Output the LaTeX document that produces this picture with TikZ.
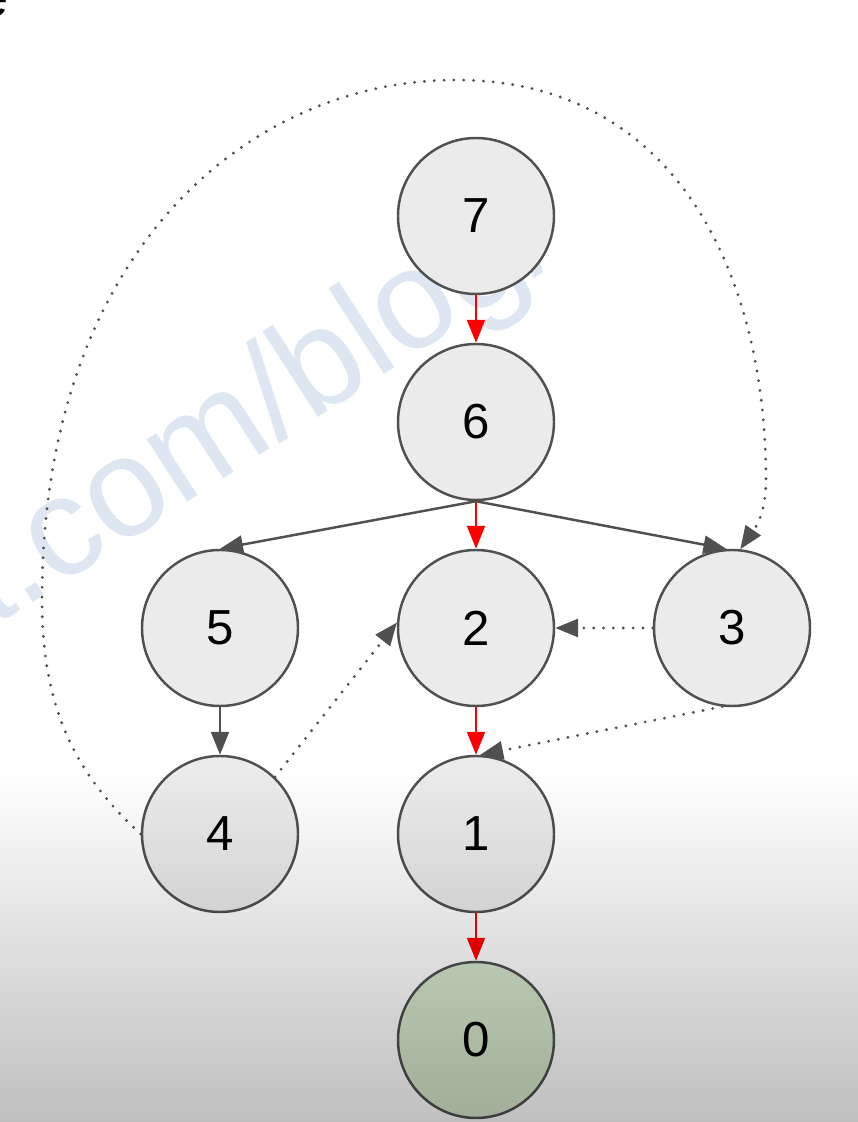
\documentclass[tikz,border=0pt]{standalone}
\usepackage{fontspec}
\setmainfont{Liberation Sans}
\usetikzlibrary{arrows.meta, fadings}
\definecolor{edgegray}{RGB}{80,80,80}
\definecolor{nodegray}{RGB}{235,235,235}
\definecolor{goalgreen}{RGB}{214,232,204}
\definecolor{stampblue}{RGB}{222,230,241}
\tikzfading[name=shadowfade, top color=transparent!100, bottom color=transparent!0]
\begin{document}
\begin{tikzpicture}[
    vertex/.style={circle, draw=edgegray, line width=0.7pt, fill=nodegray, minimum size=1.56cm, inner sep=0pt, font=\fontsize{14}{16}\selectfont},
    treeedge/.style={-{Triangle[length=0.23cm, width=0.18cm]}, edgegray, line width=0.7pt},
    bestedge/.style={-{Triangle[length=0.23cm, width=0.18cm]}, red, line width=0.6pt},
    backedge/.style={-{Triangle[length=0.23cm, width=0.18cm]}, edgegray, line width=0.9pt, dash pattern=on 0pt off 2.8pt, line cap=round},
    stamp/.style={rotate=33, inner sep=0pt, text=stampblue, font=\fontsize{40}{42}\selectfont}
  ]
    \useasboundingbox (0, 0) rectangle (8.58, 11.22);
    \fill [white] (0, 0) rectangle (8.58, 11.22);
    % watermark and cut-off letter
    \node [stamp, anchor=base west] (wm) at (0.22, 5.12) {.com/blog/};
    \node [stamp, anchor=base east] (wmcut) at (wm.base west) {a};
    \node [anchor=base east, inner sep=0pt, font=\fontsize{16}{18}\selectfont] (cue) at (0.09, 11.05) {e};
    % vertices
    \node [vertex] (n7) at (4.76, 9.06) {7};
    \node [vertex] (n6) at (4.76, 7.00) {6};
    \node [vertex] (n5) at (2.20, 4.94) {5};
    \node [vertex] (n2) at (4.76, 4.94) {2};
    \node [vertex] (n3) at (7.32, 4.94) {3};
    \node [vertex] (n4) at (2.20, 2.88) {4};
    \node [vertex] (n1) at (4.76, 2.88) {1};
    \node [vertex, fill=goalgreen] (n0) at (4.76, 0.82) {0};
    % edges
    \draw [bestedge] (n7) -- (n6);
    \draw [bestedge] (n6) -- (n2);
    \draw [bestedge] (n2) -- (n1);
    \draw [bestedge] (n1) -- (n0);
    \draw [treeedge] (n6.south) -- (n5.north);
    \draw [treeedge] (n6.south) -- (n3.94);
    \draw [treeedge] (n5) -- (n4);
    \draw [backedge] (n3) -- (n2);
    \draw [backedge] (n4.46) -- (n2.176);
    \draw [backedge] (n3.263) -- (n1.87);
    \draw [backedge] (n4.west) .. controls (0.70, 3.52) and (0.42, 4.22) .. (0.42, 5.22)
      .. controls (0.42, 8.72) and (2.50, 10.42) .. (4.56, 10.42)
      .. controls (6.80, 10.42) and (7.66, 8.42) .. (7.66, 6.42)
      .. controls (7.66, 6.02) and (7.50, 5.87) .. (n3.84);
    % shadow at the bottom
    \fill [black, fill opacity=0.25, path fading=shadowfade] (0, 0) rectangle (8.58, 3.49);
  \end{tikzpicture}
\end{document}
